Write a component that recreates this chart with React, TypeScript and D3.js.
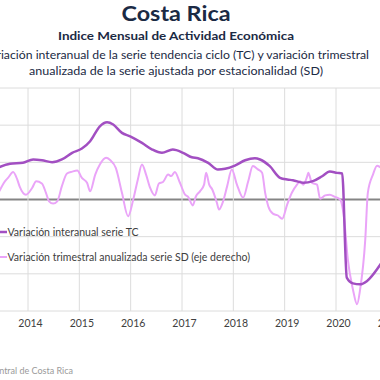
import React from "react";
import * as d3 from "d3";

const yearTicks = [2014, 2015, 2016, 2017, 2018, 2019, 2020, 2021];
const yearLabels = ["2014", "2015", "2016", "2017", "2018", "2019", "2020", "2021"];
const leftTicks = [-9, -6, -3, 0, 3, 6, 9];

// Variación interanual serie TC (eje izquierdo, %)
const tcYears = [2013.40, 2013.65, 2013.90, 2014.10, 2014.27, 2014.47, 2014.66, 2014.86, 2015.05, 2015.21, 2015.40, 2015.54, 2015.66, 2015.83, 2015.99, 2016.22, 2016.42, 2016.61, 2016.82, 2017.02, 2017.19, 2017.31, 2017.51, 2017.70, 2017.84, 2018.03, 2018.23, 2018.42, 2018.52, 2018.71, 2018.91, 2019.05, 2019.16, 2019.36, 2019.55, 2019.73, 2019.88, 2020.02, 2020.12, 2020.21, 2020.33, 2020.47, 2020.60, 2020.88];
const tcValues = [2.55, 2.88, 2.96, 3.23, 3.17, 3.01, 3.23, 3.77, 4.11, 4.70, 5.91, 6.23, 6.05, 5.38, 5.10, 4.57, 4.03, 3.77, 4.03, 3.77, 3.41, 3.33, 2.96, 2.42, 2.48, 2.74, 3.17, 3.33, 3.23, 2.69, 1.75, 1.61, 1.56, 1.35, 1.48, 1.88, 2.26, 2.15, 2.10, -6.31, -6.77, -6.85, -6.59, -5.15];

// Variación trimestral anualizada serie SD (eje derecho, %)
const sdYears = [2013.44, 2013.55, 2013.61, 2013.71, 2013.79, 2013.84, 2013.96, 2014.08, 2014.16, 2014.27, 2014.35, 2014.41, 2014.49, 2014.57, 2014.66, 2014.76, 2014.86, 2014.96, 2015.05, 2015.15, 2015.21, 2015.31, 2015.40, 2015.52, 2015.60, 2015.71, 2015.83, 2015.95, 2016.05, 2016.14, 2016.22, 2016.30, 2016.38, 2016.47, 2016.55, 2016.63, 2016.73, 2016.79, 2016.86, 2016.96, 2017.06, 2017.12, 2017.21, 2017.27, 2017.35, 2017.43, 2017.47, 2017.53, 2017.59, 2017.68, 2017.72, 2017.80, 2017.88, 2017.97, 2018.07, 2018.19, 2018.29, 2018.38, 2018.48, 2018.56, 2018.62, 2018.68, 2018.77, 2018.87, 2018.95, 2019.05, 2019.14, 2019.24, 2019.30, 2019.36, 2019.44, 2019.46, 2019.53, 2019.63, 2019.69, 2019.79, 2019.88, 2019.98, 2020.08, 2020.16, 2020.23, 2020.33, 2020.41, 2020.47, 2020.57, 2020.62, 2020.72, 2020.80, 2020.88];
const sdValues = [2.2, 4.9, 5.8, 7.4, 5.4, 3.4, 1.3, 3.1, 4.9, 4.3, 1.8, -0.5, -1.1, -0.5, 3.6, 7.0, 7.5, 7.8, 5.8, 4.5, 2.2, 6.7, 9.4, 11.2, 10.6, 8.5, 1.8, -4.5, 0.0, 5.4, 9.4, 6.7, 3.1, 1.1, 4.3, 4.7, 6.7, 6.3, 7.4, 4.5, 1.3, 0.7, -1.6, 0.8, 2.2, 4.0, 7.2, 4.0, 2.7, -0.9, -2.7, -0.5, 3.6, 8.1, 4.0, 0.5, 4.9, 9.0, 8.1, 7.2, 1.8, -1.8, -3.8, -4.3, -5.2, -1.3, 1.8, 4.0, 4.9, 4.0, 6.3, 7.2, 4.5, 4.0, 0.2, 1.1, 1.3, 0.7, 0.0, -5.4, -16.1, -24.2, -28.2, -24.2, -10.8, 1.8, 6.7, 9.1, 8.5];

const tcData = tcYears.map((t, i) => ({ t, v: tcValues[i] }));
const sdData = sdYears.map((t, i) => ({ t, v: sdValues[i] }));

const W = 380;
const H = 380;
const plotTop = 88;
const plotBottom = 311;
const centerX = 176;

const x = d3.scaleLinear().domain([2014, 2020]).range([28, 336]);
const yL = d3.scaleLinear().domain([-9, 9]).range([plotBottom, plotTop]);
const yR = d3.scaleLinear().domain([-30, 30]).range([plotBottom, plotTop]);

const tcLine = d3
  .line<{ t: number; v: number }>()
  .x((d) => x(d.t))
  .y((d) => yL(d.v))
  .curve(d3.curveMonotoneX);
const sdLine = d3
  .line<{ t: number; v: number }>()
  .x((d) => x(d.t))
  .y((d) => yR(d.v))
  .curve(d3.curveMonotoneX);

const TC_COLOR = "#a24fc2";
const SD_COLOR = "#eaa4f8";
const FONT = "Lato, 'Open Sans', sans-serif";

export default function App() {
  return (
    <svg
      width={W}
      height={H}
      style={{ position: "absolute", left: 0, top: 0, background: "#fff" }}
      fontFamily={FONT}
    >
      <rect x={0} y={0} width={W} height={H} fill="#fff" />
      <text x={centerX} y={21} textAnchor="middle" fontSize={20.5} fontWeight={700} fill="#1b2a44"
        textLength={109} lengthAdjust="spacingAndGlyphs">
        Costa Rica
      </text>
      <text x={centerX} y={40} textAnchor="middle" fontSize={11.5} fontWeight={700} fill="#1b2a44"
        textLength={236} lengthAdjust="spacingAndGlyphs">
        Indice Mensual de  Actividad Económica
      </text>
      <text x={centerX} y={59} textAnchor="middle" fontSize={11.5} fill="#1b2a44"
        textLength={386} lengthAdjust="spacingAndGlyphs">
        Variación interanual de la serie tendencia ciclo (TC) y variación trimestral
      </text>
      <text x={centerX} y={75} textAnchor="middle" fontSize={11.5} fill="#1b2a44"
        textLength={294} lengthAdjust="spacingAndGlyphs">
        anualizada de la serie ajustada por estacionalidad (SD)
      </text>

      {/* horizontal gridlines */}
      {leftTicks.map((v) => (
        <line
          key={"h" + v}
          x1={0}
          x2={W}
          y1={yL(v)}
          y2={yL(v)}
          stroke={v === 0 ? "#858585" : "#dcdcdc"}
          strokeWidth={v === 0 ? 2 : 1}
        />
      ))}
      {/* vertical gridlines */}
      {yearTicks.map((yr) => (
        <line
          key={"v" + yr}
          x1={x(yr)}
          x2={x(yr)}
          y1={plotTop}
          y2={plotBottom}
          stroke="#dcdcdc"
          strokeWidth={1}
        />
      ))}
      {/* year labels */}
      {yearTicks.map((yr, i) => (
        <text key={"l" + yr} x={x(yr) + 2.5} y={327} textAnchor="middle" fontSize={10.5} fill="#404040">
          {yearLabels[i]}
        </text>
      ))}

      <path d={sdLine(sdData) || ""} fill="none" stroke={SD_COLOR} strokeWidth={2} />
      <path d={tcLine(tcData) || ""} fill="none" stroke={TC_COLOR} strokeWidth={2.5} />

      {/* legend */}
      <line x1={-3} x2={7} y1={232} y2={232} stroke={TC_COLOR} strokeWidth={2.5} />
      <text x={7.5} y={235.5} fontSize={10.5} fill="#404040">
        Variación interanual serie TC
      </text>
      <line x1={-3} x2={7} y1={257} y2={257} stroke={SD_COLOR} strokeWidth={2} />
      <text x={7.5} y={260.5} fontSize={10.5} fill="#404040">
        Variación trimestral anualizada serie SD (eje derecho)
      </text>

      <text x={73} y={374} textAnchor="end" fontSize={9} fill="#9a9a9a">
        Fuente: Banco Central de Costa Rica
      </text>
    </svg>
  );
}
